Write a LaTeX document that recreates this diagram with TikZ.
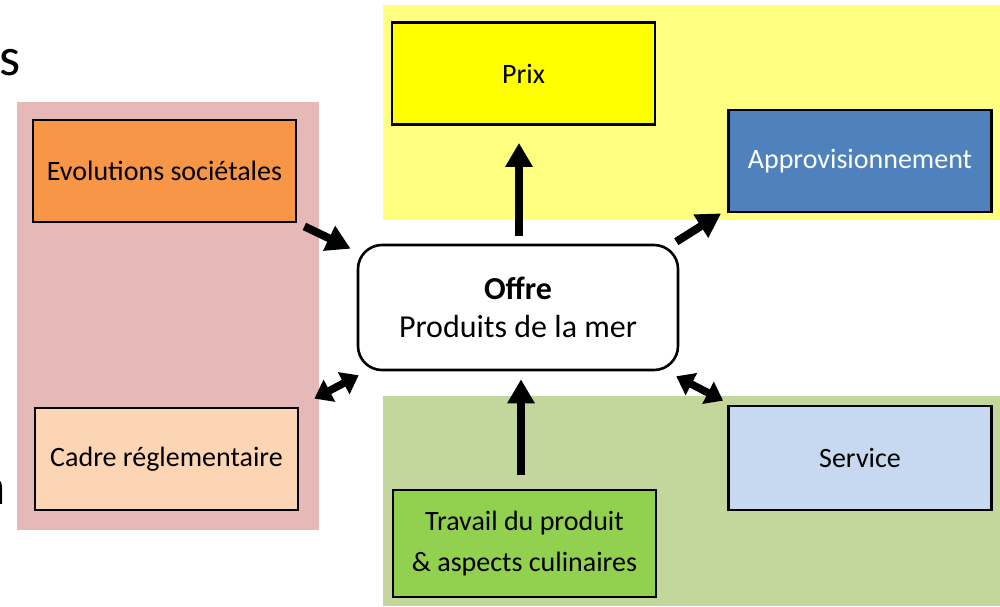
\documentclass[tikz,border=0pt]{standalone}
\usepackage{fontspec}
\setmainfont{Carlito}
\usetikzlibrary{arrows.meta}

\definecolor{zonepink}{HTML}{E6B9B8}
\definecolor{zoneyellow}{HTML}{FFFF80}
\definecolor{zonegreen}{HTML}{C3D69B}
\definecolor{prixfill}{HTML}{FFFF00}
\definecolor{approfill}{HTML}{4F81BD}
\definecolor{evofill}{HTML}{F79646}
\definecolor{cadrefill}{HTML}{FCD5B5}
\definecolor{servfill}{HTML}{C6D9F1}
\definecolor{travfill}{HTML}{92D050}

\tikzset{
	box/.style={draw, rectangle, line width=1.4pt, minimum width=131.5pt,
		minimum height=51pt, align=center, font=\fontsize{14}{20.5}\selectfont},
	bigarrow/.style={line width=4pt, -{Triangle[length=12pt,width=13pt]}},
	twoarrow/.style={line width=3.8pt,
		{Triangle[length=8.5pt,width=12pt]}-{Triangle[length=8.5pt,width=12pt]}}
}

\begin{document}
\begin{tikzpicture}[x=0.5pt, y=-0.5pt]
	\useasboundingbox (0,0) rectangle (1000,606);
	\clip (0,0) rectangle (1000,606);
	
	% zones
	\fill[zonepink]   (17,102)  rectangle (319,530);
	\fill[zoneyellow] (383,5)   rectangle (1000,220);
	\fill[zonegreen]  (383,396) rectangle (1000,606);
	
	% cut-off letters at the left edge
	\node[font=\fontsize{27}{30}\selectfont] (letters) at (10,63) {s};
	\node[font=\fontsize{27}{30}\selectfont] (lettern) at (-8,491) {n};
	
	\node[box, fill=prixfill] (prix) at (523.5,73.5) {Prix};
	\node[box, fill=approfill, text=white] (appro) at (860,161)
		{Approvisionnement};
	\node[box, fill=evofill] (evo) at (164.5,171)
		{Evolutions sociétales};
	\node[box, fill=cadrefill] (cadre) at (166.5,459)
		{Cadre réglementaire};
	\node[box, fill=servfill, minimum height=52pt] (service) at (860,458)
		{Service};
	\node[box, fill=travfill, minimum height=53.5pt] (travail) at (524.5,543.5)
		{Travail du produit\\\& aspects culinaires};
	
	\node[draw, rectangle, rounded corners=12pt, fill=white, line width=1.3pt,
		minimum width=160pt, minimum height=62.5pt, align=center,
		font=\fontsize{16}{19}\selectfont] (offre) at (518,307.5)
		{\textbf{Offre}\\Produits de la mer};
	
	\draw[bigarrow] ([shift={(7,3)}]evo.south east) -- ([shift={(-6,5)}]offre.north west);
	\draw[twoarrow] ([shift={(15,-8)}]cadre.north east) -- ([shift={(2,4)}]offre.south west);
	\draw[bigarrow] ([shift={(-3,-2)}]offre.north east) -- ([shift={(-6,0)}]appro.south west);
	\draw[twoarrow] ([shift={(-3,5)}]offre.south east) -- ([shift={(-4,-4)}]service.north west);
	\draw[bigarrow] ([shift={(1,-8)}]offre.north) -- ([shift={(-4.5,17)}]prix.south);
	\draw[bigarrow] ([shift={(-3.5,-14)}]travail.north) -- ([shift={(3,8)}]offre.south);
\end{tikzpicture}
\end{document}
